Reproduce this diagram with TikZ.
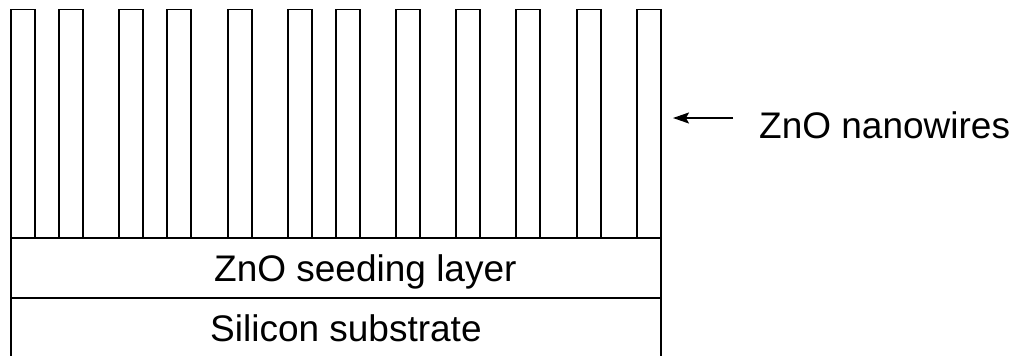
\documentclass[tikz,border=0pt]{standalone}
\usepackage{fontspec}
\setmainfont{Liberation Sans}
\usetikzlibrary{arrows.meta}
\begin{document}
\begin{tikzpicture}[
    x=1bp, y=-1bp,
    every node/.style={font=\fontsize{37bp}{41bp}\selectfont, inner sep=0pt},
    layer/.style={
        line width=1.7bp
    },
    wire/.style={
        line width=1.7bp
    },
    lbl/.style={anchor=base west},
    arr/.style={-{Stealth[length=16bp, width=11bp, inset=3bp]}, line width=1.7bp}
]

    % canvas
    \useasboundingbox (0,0) rectangle (1017,356);

    % Nanowires
    \foreach \wx in {11,59,119,167,228,288,336,396,456,516,577,637} {
        \draw[wire] (\wx,238) -- (\wx,9.5) -- (\wx+24,9.5) -- (\wx+24,238);
    }

    % Seeding layer
    \draw[layer] (11,238) rectangle (661,298);
    \node[lbl] (seed) at (214,281) {ZnO seeding layer};

    % Substrate
    \draw[layer] (11,298) -- (11,356);
    \draw[layer] (661,298) -- (661,356);
    \node[lbl] (sub) at (210,341) {Silicon substrate};

    % Label with arrow
    \node[lbl] (nw) at (759,138) {ZnO nanowires};
    \coordinate (tail) at (733,118);
    \coordinate (tip) at (673,118);
    \draw[arr] (tail) -- (tip);

\end{tikzpicture}
\end{document}
